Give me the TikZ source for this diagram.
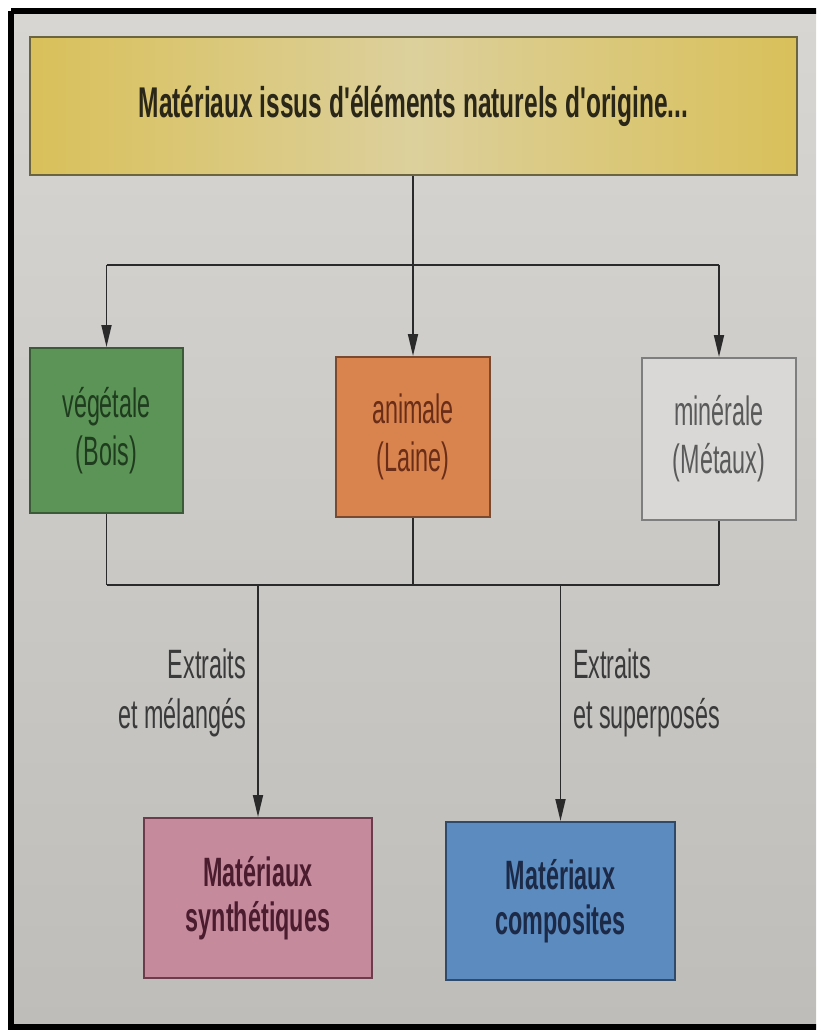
\documentclass[tikz,border=0pt]{standalone}
\usepackage{fontspec}
\setmainfont{Liberation Sans}[FakeStretch=0.57, Ligatures=TeXOff]
\usetikzlibrary{arrows.meta}
\definecolor{bgtop}{HTML}{D8D6D3}
\definecolor{bgbot}{HTML}{BFBDBA}
\definecolor{yel}{HTML}{D9C05A}
\definecolor{yelm}{HTML}{DCD09C}
\definecolor{yelb}{HTML}{6B6440}
\definecolor{yelt}{HTML}{2A2618}
\definecolor{grn}{HTML}{5C9457}
\definecolor{grnb}{HTML}{3C5A38}
\definecolor{grnt}{HTML}{1F3D1E}
\definecolor{org}{HTML}{D9844F}
\definecolor{orgb}{HTML}{7A4A30}
\definecolor{orgt}{HTML}{6A2D17}
\definecolor{gry}{HTML}{D9D8D6}
\definecolor{gryb}{HTML}{7E7E7E}
\definecolor{gryt}{HTML}{5A5A5A}
\definecolor{pnk}{HTML}{C68A9D}
\definecolor{pnkb}{HTML}{6C3C4C}
\definecolor{pnkt}{HTML}{4A1C2E}
\definecolor{blu}{HTML}{5B8BBF}
\definecolor{blub}{HTML}{2F4A6A}
\definecolor{blut}{HTML}{1C2A48}
\definecolor{linec}{HTML}{2A2A2A}
\definecolor{labt}{HTML}{3A3A3A}
\tikzset{
  box/.style={draw, line width=2pt, inner sep=0pt, align=center,
    font=\fontsize{41}{48}\selectfont},
  boldbox/.style={box, font=\fontsize{41}{45}\selectfont\bfseries},
  conn/.style={draw=linec, line width=1.8pt},
  arr/.style={conn, -{Triangle[width=10pt,length=22pt]}},
  lab/.style={text=labt, inner sep=0pt, font=\fontsize{41}{50}\selectfont}
}
\begin{document}
\begin{tikzpicture}[x=1pt,y=-1pt]
\useasboundingbox (0,0) rectangle (816,1030);
\clip (0,0) rectangle (816,1030);
\fill[white] (0,0) rectangle (816,1030);
\shade[top color=bgtop, bottom color=bgbot] (9.5,11.5) rectangle (816,1027);
\draw[black, line width=6pt] (11,11.5) -- (830,11.5);
\draw[black, line width=6pt] (11,11.5) -- (11,1027) -- (830,1027);

\node[boldbox, left color=yel, right color=yel, middle color=yelm, draw=yelb,
  minimum width=767pt, minimum height=138pt, text=yelt,
  font=\fontsize{43}{48}\selectfont\bfseries]
  (top) at (413.5,106) {\raisebox{-4pt}{Matériaux issus d'éléments naturels d'origine...}};

\node[box, fill=grn, draw=grnb, text=grnt, minimum width=153pt, minimum height=165pt]
  (veg) at (106.5,430.5) {végétale\\(Bois)};
\node[box, fill=org, draw=orgb, text=orgt, minimum width=154pt, minimum height=160pt]
  (ani) at (413,437) {animale\\(Laine)};
\node[box, fill=gry, draw=gryb, text=gryt, minimum width=154pt, minimum height=162pt]
  (min) at (719,439) {minérale\\(Métaux)};

\node[boldbox, fill=pnk, draw=pnkb, text=pnkt, minimum width=228pt, minimum height=160pt]
  (syn) at (258,898) {Matériaux\\synthétiques};
\node[boldbox, fill=blu, draw=blub, text=blut, minimum width=229pt, minimum height=158pt]
  (com) at (560.5,901) {Matériaux\\composites};

\coordinate (tl) at (106.5,265);
\coordinate (tm) at (413,265);
\coordinate (tr) at (719,265);
\coordinate (bl) at (106.5,585);
\coordinate (bm) at (413,585);
\coordinate (br) at (719,585);
\coordinate (bs) at (258,585);
\coordinate (bc) at (560.5,585);

\draw[conn] (top.south -| tm) -- (tm);
\draw[conn] (tl) -- (tr);
\draw[arr] (tl) -- (veg.north);
\draw[arr] (tm) -- (ani.north);
\draw[arr] (tr) -- (min.north);

\draw[conn] (veg.south) -- (bl);
\draw[conn] (ani.south) -- (bm);
\draw[conn] (min.south) -- (br);
\draw[conn] (bl) -- (br);
\draw[arr] (bs) -- (syn.north);
\draw[arr] (bc) -- (com.north);

\node[lab, align=right, anchor=east] (l1) at (246,693) {Extraits\\et mélangés};
\node[lab, align=left, anchor=west] (l2) at (573,693) {Extraits\\et superposés};
\end{tikzpicture}
\end{document}
